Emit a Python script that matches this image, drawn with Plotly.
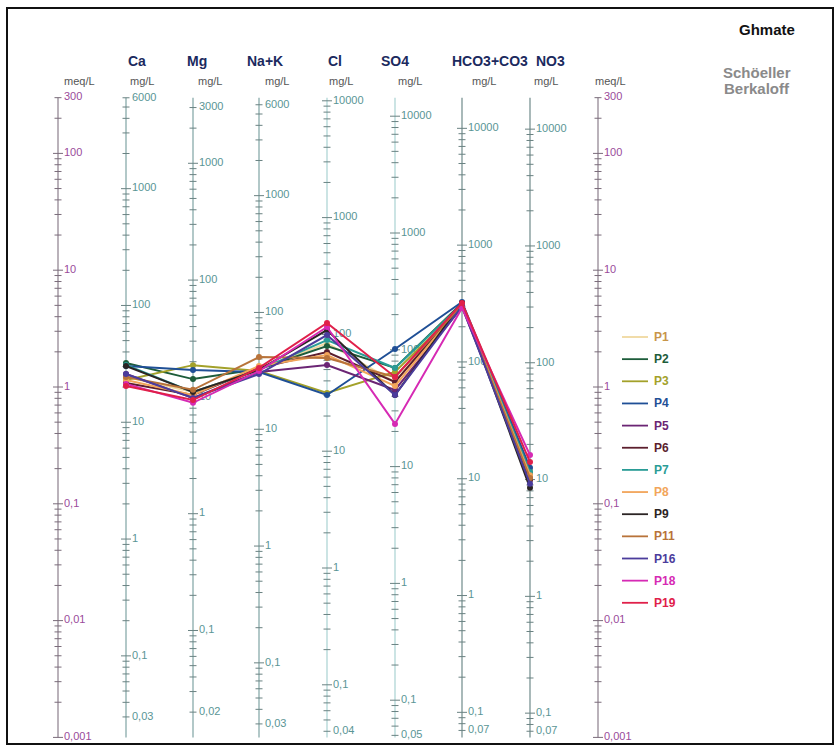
import plotly.graph_objects as go

# ---- ions (mg/L) and their equivalent weights ----
IONS = ["Ca", "Mg", "Na+K", "Cl", "SO4", "HCO3+CO3", "NO3"]
EQ_WEIGHT = [20.04, 12.153, 23.0, 35.453, 48.03, 61.017, 62.0]
BOTTOM_LABEL = ["0,03", "0,02", "0,03", "0,04", "0,05", "0,07", "0,07"]
TOP_LABEL = ["6000", "3000", "6000", "10000", "10000", "10000", "10000"]

SAMPLES = ["P1", "P2", "P3", "P4", "P5", "P6", "P7", "P8", "P9", "P11", "P16", "P18", "P19"]
P1 = [24.4, 11.0, 32.2, 84.4, 53.0, 307, 12.1]
P2 = [32.2, 14.2, 32.8, 79.6, 69.9, 320, 10.9]
P3 = [23.0, 18.7, 31.5, 31.5, 64.6, 301, 11.6]
P4 = [30.3, 17.0, 30.9, 30.3, 101.6, 326, 12.6]
P5 = [25.9, 9.8, 30.9, 54.7, 45.3, 295, 10.3]
P6 = [21.7, 10.4, 33.5, 70.7, 53.0, 313, 9.9]
P7 = [30.9, 11.0, 32.2, 89.5, 69.9, 313, 11.6]
P8 = [23.0, 10.4, 34.8, 66.6, 49.0, 307, 10.9]
P9 = [30.3, 11.0, 32.2, 109.0, 41.0, 320, 8.5]
P11 = [24.4, 11.5, 41.5, 62.8, 58.5, 307, 10.3]
P16 = [25.9, 9.8, 29.7, 98.8, 41.0, 301, 9.2]
P18 = [21.3, 8.9, 31.5, 115.7, 23.2, 290, 16.2]
P19 = [20.4, 9.4, 33.5, 125.2, 58.5, 320, 14.1]
VALUES = [P1, P2, P3, P4, P5, P6, P7, P8, P9, P11, P16, P18, P19]

LINE_COLORS = ["#f0d9a0", "#1d5c3a", "#a3a12a", "#1f4f96", "#6b2574", "#5c1f2e", "#2a9c96",
               "#f2a55a", "#2b2424", "#b8733a", "#4b3c9c", "#d62ab4", "#e0204a"]
TEXT_COLORS = ["#c8954a", "#1d5c3a", "#a3a12a", "#1f4f96", "#6b2574", "#5c1f2e", "#2a9c96",
               "#f2a55a", "#2b2424", "#b8733a", "#4b3c9c", "#d62ab4", "#e0204a"]

MEQ_LABELS = [300, 100, 10, 1, 0.1, 0.01, 0.001]
MEQ_MIN, MEQ_MAX = 0.001, 300

# ---- layout constants (pixel based, plot area fills the page) ----
W, H = 840, 745
DECADE_PX = 116.8
ONE_MEQ_PX = 387
AXIS_X = [126, 193, 259, 327, 395, 462, 530]
LEFT_X, RIGHT_X = 58, 598
AXIS_COL = ["#7fa3a3", "#7fa3a3", "#7fa3a3", "#a9d2d2", "#a9d2d2", "#6f8a8a", "#6f8a8a"]
LABEL_COL = "#5a9595"
MEQ_COL = "#9a4a9a"
MEQ_AXIS_COL = "#8c7f8c"
FONT = "Liberation Sans, Arial, sans-serif"

y_top = ONE_MEQ_PX / DECADE_PX
y_bot = (ONE_MEQ_PX - H) / DECADE_PX


def fmt(v):
    return ("%g" % v).replace(".", ",")


def py(pix):
    return 1 - pix / H


fig = go.Figure()


def add_axis(x, eqw, color, labels, label_color, tick_color):
    """Vertical log scale: line, ticks every n*10^k and labels (values in the axis unit)."""
    lo, hi = MEQ_MIN * eqw, MEQ_MAX * eqw
    fig.add_trace(go.Scatter(x=[x, x], y=[MEQ_MIN, MEQ_MAX], mode="lines",
                             line=dict(color=color, width=1.2), hoverinfo="skip", showlegend=False))
    tx, ty = [], []
    for k in range(-3, 6):
        for n in range(1, 10):
            v = n * 10 ** k
            if lo <= v <= hi:
                half = 5 if n == 1 else 3.5
                tx += [x - half, x + half, None]
                ty += [v / eqw, v / eqw, None]
    fig.add_trace(go.Scatter(x=tx, y=ty, mode="lines", line=dict(color=tick_color, width=1),
                             hoverinfo="skip", showlegend=False))
    fig.add_trace(go.Scatter(x=[x + 6] * len(labels), y=[v / eqw for v, _ in labels],
                             text=[t for _, t in labels], mode="text", textposition="middle right",
                             textfont=dict(size=11, color=label_color, family=FONT),
                             hoverinfo="skip", showlegend=False))


# meq/L scales on both sides
meq_labels = [(v, fmt(v)) for v in MEQ_LABELS]
add_axis(LEFT_X, 1.0, MEQ_AXIS_COL, meq_labels, MEQ_COL, "#7a6c7a")
add_axis(RIGHT_X, 1.0, MEQ_AXIS_COL, meq_labels, MEQ_COL, "#7a6c7a")

# one mg/L scale per ion
for i, ion in enumerate(IONS):
    w = EQ_WEIGHT[i]
    labs = [(float(TOP_LABEL[i]), TOP_LABEL[i])]
    for v in [1000, 100, 10, 1, 0.1]:
        labs.append((v, fmt(v)))
    labs.append((float(BOTTOM_LABEL[i].replace(",", ".")), BOTTOM_LABEL[i]))
    add_axis(AXIS_X[i], w, AXIS_COL[i], labs, LABEL_COL, "#6a8282")

# sample profiles (converted to meq/L)
for name, vals, col in zip(SAMPLES, VALUES, LINE_COLORS):
    meq = [v / w for v, w in zip(vals, EQ_WEIGHT)]
    fig.add_trace(go.Scatter(x=AXIS_X, y=meq, mode="lines+markers", name=name,
                             line=dict(color=col, width=2), marker=dict(size=6, color=col),
                             showlegend=False))

annotations = []


def note(x, ypix, text, size, color, xanchor="center"):
    annotations.append(dict(x=x, y=py(ypix), xref="x", yref="paper", text=text,
                            xanchor=xanchor, yanchor="middle", showarrow=False,
                            font=dict(size=size, color=color, family=FONT)))


# ion headers and units
HEAD_X = [137, 197, 265, 335, 395, 490, 550]
UNIT_X = [142, 210, 277, 341, 410, 484, 546]
for i, ion in enumerate(IONS):
    note(HEAD_X[i], 61, "<b>%s</b>" % ion, 14, "#1b2a5e")
    note(UNIT_X[i], 81, "mg/L", 11, "#555555")
for ux in (79, 610):
    note(ux, 81, "meq/L", 11, "#555555")

note(767, 30, "<b>Ghmate</b>", 15, "#111111")
note(757, 72, "<b>Schöeller</b>", 15, "#8a8a8a")
note(757, 89, "<b>Berkaloff</b>", 15, "#8a8a8a")

# legend
shapes = []
for j, (name, col, tcol) in enumerate(zip(SAMPLES, LINE_COLORS, TEXT_COLORS)):
    ypix = 337 + j * 22.15
    shapes.append(dict(type="line", xref="x", yref="paper", x0=622, x1=648,
                       y0=py(ypix), y1=py(ypix), line=dict(color=col, width=1.8)))
    note(652, ypix, "<b>%s</b>" % name, 12, tcol, xanchor="left")

# frame
shapes.append(dict(type="rect", xref="x", yref="paper", x0=7, x1=833, y0=py(744), y1=py(8),
                   line=dict(color="#111111", width=2), fillcolor="rgba(0,0,0,0)"))

fig.update_layout(
    width=W, height=H, margin=dict(l=0, r=0, t=0, b=0),
    paper_bgcolor="white", plot_bgcolor="white",
    xaxis=dict(range=[0, W], visible=False, fixedrange=True),
    yaxis=dict(type="log", range=[y_bot, y_top], visible=False, fixedrange=True),
    annotations=annotations, shapes=shapes, showlegend=False,
)

fig.write_html("out.html")
